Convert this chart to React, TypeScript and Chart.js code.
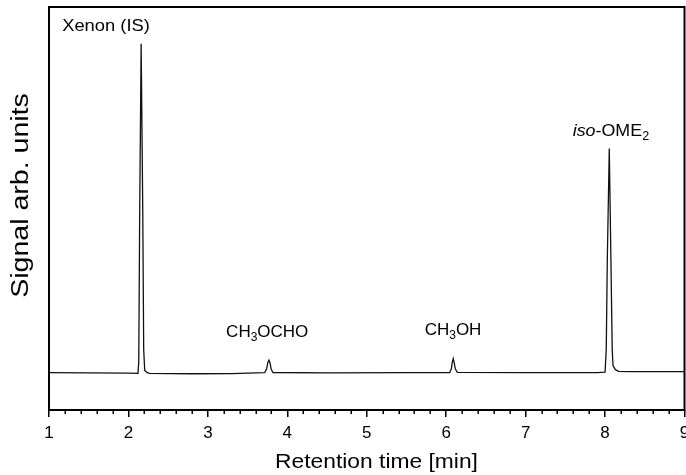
import React, { useEffect, useRef } from "react";
import { Chart, registerables } from "chart.js";

Chart.register(...registerables);

// Retention time [min] and detector signal [arb. units]
const retentionTime = [
  1.0, 1.5, 2.0, 2.12, 2.13, 2.142, 2.16, 2.18, 2.192, 2.205, 2.23, 2.26, 2.8, 3.3,
  3.715, 3.74, 3.755, 3.769, 3.783, 3.797, 3.82, 4.5, 5.5,
  6.045, 6.065, 6.078, 6.089, 6.1, 6.115, 6.14, 7.0, 7.9,
  8.0, 8.015, 8.028, 8.053, 8.074, 8.09, 8.1, 8.13, 8.17, 8.3, 8.7, 9.0,
];
const signal = [
  9.25, 9.2, 9.15, 9.1, 12.0, 50.0, 90.9, 50.0, 15.0, 9.8, 9.4, 9.1, 9.0, 9.05,
  9.25, 10.2, 11.8, 12.36, 11.6, 10.1, 9.3, 9.2, 9.25,
  9.25, 10.3, 12.0, 12.76, 11.8, 10.2, 9.35, 9.25, 9.25,
  9.4, 15.0, 37.0, 64.9, 37.0, 15.0, 11.0, 10.0, 9.6, 9.5, 9.5, 9.5,
];

// axis ranges and ticks
const xMin = 1;
const xMax = 9;
const xStep = 1;
const xMinorPerMajor = 5;
const yMin = 0;
const yMax = 100;

// axis titles
const xTitle = "Retention time [min]";
const yTitle = "Signal arb. units";

// peak labels: [text, kind] with kind n = normal, i = italic, sub = subscript
type Part = [string, string];
const peakLabels: Part[][] = [
  [["Xenon (IS)", "n"]],
  [["CH", "n"], ["3", "sub"], ["OCHO", "n"]],
  [["CH", "n"], ["3", "sub"], ["OH", "n"]],
  [["iso", "i"], ["-OME", "n"], ["2", "sub"]],
];
const peakLabelTimes = [1.718, 3.747, 6.086, 8.074];
const peakLabelSignals = [94.0, 18.0, 18.6, 68.0];

const FF = "'Liberation Sans', Arial, Helvetica, sans-serif";

function drawRich(
  ctx: CanvasRenderingContext2D,
  parts: Part[],
  cx: number,
  baseY: number,
  size: number,
  sx: number
) {
  const fontFor = (k: string) =>
    k === "i" ? `italic ${size}px ${FF}` : k === "sub" ? `${Math.round(size * 0.7)}px ${FF}` : `${size}px ${FF}`;
  const widths = parts.map(([t, k]) => {
    ctx.font = fontFor(k);
    return ctx.measureText(t).width;
  });
  const total = widths.reduce((a, b) => a + b, 0);
  ctx.save();
  ctx.translate(cx, baseY);
  ctx.scale(sx, 1);
  ctx.textAlign = "left";
  ctx.textBaseline = "alphabetic";
  ctx.fillStyle = "#000";
  let x = -total / 2;
  parts.forEach(([t, k], i) => {
    ctx.font = fontFor(k);
    ctx.fillText(t, x, k === "sub" ? size * 0.22 : 0);
    x += widths[i];
  });
  ctx.restore();
}

const decorPlugin = {
  id: "decor",
  afterDraw(chart: any) {
    const { ctx, chartArea, scales } = chart;
    const xs = scales.x;
    const ys = scales.y;
    ctx.save();
    // frame
    ctx.strokeStyle = "#000";
    ctx.lineWidth = 2;
    ctx.strokeRect(chartArea.left, chartArea.top, chartArea.right - chartArea.left, chartArea.bottom - chartArea.top);
    // minor ticks
    ctx.lineWidth = 1.5;
    const n = ((xMax - xMin) / xStep) * xMinorPerMajor;
    for (let i = 1; i < n; i++) {
      if (i % xMinorPerMajor === 0) continue;
      const v = xMin + (i * xStep) / xMinorPerMajor;
      const px = Math.round(xs.getPixelForValue(v)) + 0.25;
      ctx.beginPath();
      ctx.moveTo(px, chartArea.bottom);
      ctx.lineTo(px, chartArea.bottom + 4);
      ctx.stroke();
    }
    // peak labels
    const sizes = [17, 17, 17, 17];
    const stretch = [1.08, 1.0, 1.0, 1.05];
    peakLabels.forEach((parts, i) => {
      drawRich(
        ctx,
        parts,
        xs.getPixelForValue(peakLabelTimes[i]),
        ys.getPixelForValue(peakLabelSignals[i]),
        sizes[i],
        stretch[i]
      );
    });
    // x title
    drawRich(ctx, [[xTitle, "n"]], 376.5, 468.3, 21, 1.086);
    // y title (rotated)
    ctx.save();
    ctx.translate(28.2, 195.5);
    ctx.rotate(-Math.PI / 2);
    drawRich(ctx, [[yTitle, "n"]], 0, 0, 23, 1.24);
    ctx.restore();
    ctx.restore();
  },
};

export default function App() {
  const ref = useRef<HTMLCanvasElement | null>(null);
  useEffect(() => {
    document.body.style.margin = "0";
    const canvas = ref.current;
    if (!canvas) return;
    const chart = new Chart(canvas, {
      type: "line",
      data: {
        datasets: [
          {
            data: retentionTime.map((t, i) => ({ x: t, y: signal[i] })),
            borderColor: "#111",
            borderWidth: 1.3,
            pointRadius: 0,
            tension: 0,
            fill: false,
          },
        ],
      },
      options: {
        animation: false,
        responsive: false,
        devicePixelRatio: 1,
        layout: { padding: { left: 49, top: 7, right: 1.5, bottom: 0 } },
        plugins: { legend: { display: false }, tooltip: { enabled: false } },
        scales: {
          x: {
            type: "linear",
            position: "bottom",
            min: xMin,
            max: xMax,
            ticks: {
              stepSize: xStep,
              color: "#000",
              font: { family: FF, size: 17 },
              padding: 6,
              maxRotation: 0,
            },
            grid: {
              drawOnChartArea: false,
              drawTicks: true,
              tickLength: 7,
              color: "#000",
              lineWidth: 1.5,
            },
            border: { display: false },
            afterFit: (scale: any) => {
              scale.height = 65;
              scale.paddingLeft = 0;
              scale.paddingRight = 0;
            },
          },
          y: {
            type: "linear",
            display: false,
            min: yMin,
            max: yMax,
          },
        },
      },
      plugins: [decorPlugin],
    });
    return () => chart.destroy();
  }, []);
  return <canvas ref={ref} width={686} height={475} style={{ display: "block", width: 686, height: 475 }} />;
}
